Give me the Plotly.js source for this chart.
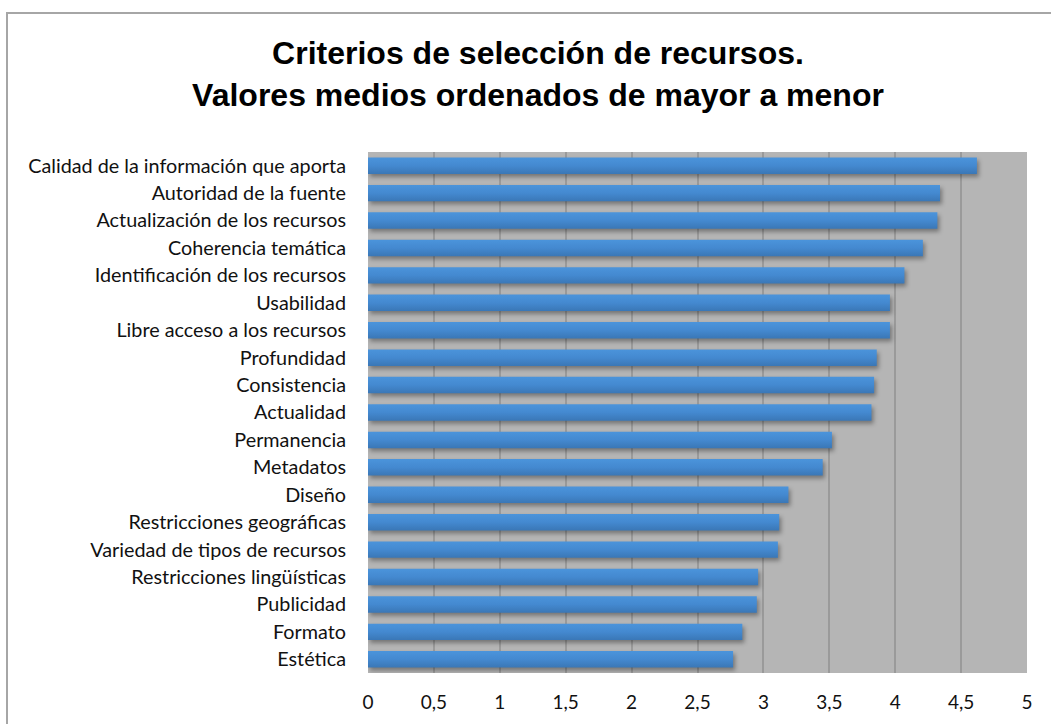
<!DOCTYPE html>
<html>
<head>
<meta charset="utf-8">
<script src="https://cdn.plot.ly/plotly-3.0.1.min.js"></script>
<style>
  html, body { margin: 0; padding: 0; background: #fff; }
  #wrap { position: relative; width: 1051px; height: 724px; overflow: hidden; }
  #chart { width: 1051px; height: 724px; }
  #frame { position: absolute; left: 6px; top: 12px; width: 1100px; height: 800px;
           border-left: 2px solid #a6a6a6; border-top: 2px solid #a6a6a6; pointer-events: none; }
  #chart .bars path {
    fill: url(#barGrad) !important;
    filter: drop-shadow(2px 3px 2px rgba(0,0,0,0.35));
  }
</style>
</head>
<body>
<svg width="0" height="0" style="position:absolute">
  <defs>
    <linearGradient id="barGrad" x1="0" y1="0" x2="0" y2="1">
      <stop offset="0" stop-color="#4b94db"/>
      <stop offset="0.5" stop-color="#4489d0"/>
      <stop offset="1" stop-color="#3a77b6"/>
    </linearGradient>
  </defs>
</svg>
<div id="wrap">
  <div id="chart"></div>
  <div id="frame"></div>
</div>
<script>
const categories = [
  "Calidad de la información que aporta",
  "Autoridad de la fuente",
  "Actualización de los recursos",
  "Coherencia temática",
  "Identificación de los recursos",
  "Usabilidad",
  "Libre acceso a los recursos",
  "Profundidad",
  "Consistencia",
  "Actualidad",
  "Permanencia",
  "Metadatos",
  "Diseño",
  "Restricciones geográficas",
  "Variedad de tipos de recursos",
  "Restricciones lingüísticas",
  "Publicidad",
  "Formato",
  "Estética"
];
const values = [4.62, 4.34, 4.32, 4.21, 4.07, 3.96, 3.96, 3.86, 3.84, 3.82, 3.52, 3.45, 3.19, 3.12, 3.11, 2.96, 2.95, 2.84, 2.77];
const xTicks = [0, 0.5, 1, 1.5, 2, 2.5, 3, 3.5, 4, 4.5, 5];

const trace = {
  type: "bar",
  orientation: "h",
  y: categories,
  x: values,
  marker: { color: "#4287cf", line: { width: 0 } },
  hoverinfo: "x+y"
};

const W = 1051, H = 724;
const layout = {
  width: W, height: H,
  margin: { l: 367.5, r: 23.5, t: 152, b: 51, pad: 0 },
  paper_bgcolor: "#ffffff",
  plot_bgcolor: "#b5b5b5",
  separators: ",.",
  showlegend: false,
  bargap: 0.4,
  title: {
    text: "<b>Criterios de selección de recursos.<br>Valores medios ordenados de mayor a menor</b>",
    font: { family: "Liberation Sans, Arial, sans-serif", size: 32, color: "#000" },
    x: 538 / W, xanchor: "center", xref: "container",
    y: 1 - 64 / H, yanchor: "top", yref: "container"
  },
  xaxis: {
    range: [0, 5],
    tickvals: xTicks,
    ticks: "",
    showgrid: true,
    gridcolor: "#9a9a9a",
    gridwidth: 2,
    zeroline: false,
    showline: false,
    ticklabelstandoff: 16,
    tickfont: { family: "Lato, Open Sans, sans-serif", size: 19, color: "#111" },
    fixedrange: true
  },
  yaxis: {
    type: "category",
    autorange: "reversed",
    ticks: "",
    showgrid: false,
    zeroline: false,
    showline: false,
    ticklabelstandoff: 21,
    tickfont: { family: "Lato, Open Sans, sans-serif", size: 19.8, color: "#111" },
    fixedrange: true
  }
};

Plotly.newPlot("chart", [trace], layout, { displayModeBar: false, staticPlot: true });
</script>
</body>
</html>
